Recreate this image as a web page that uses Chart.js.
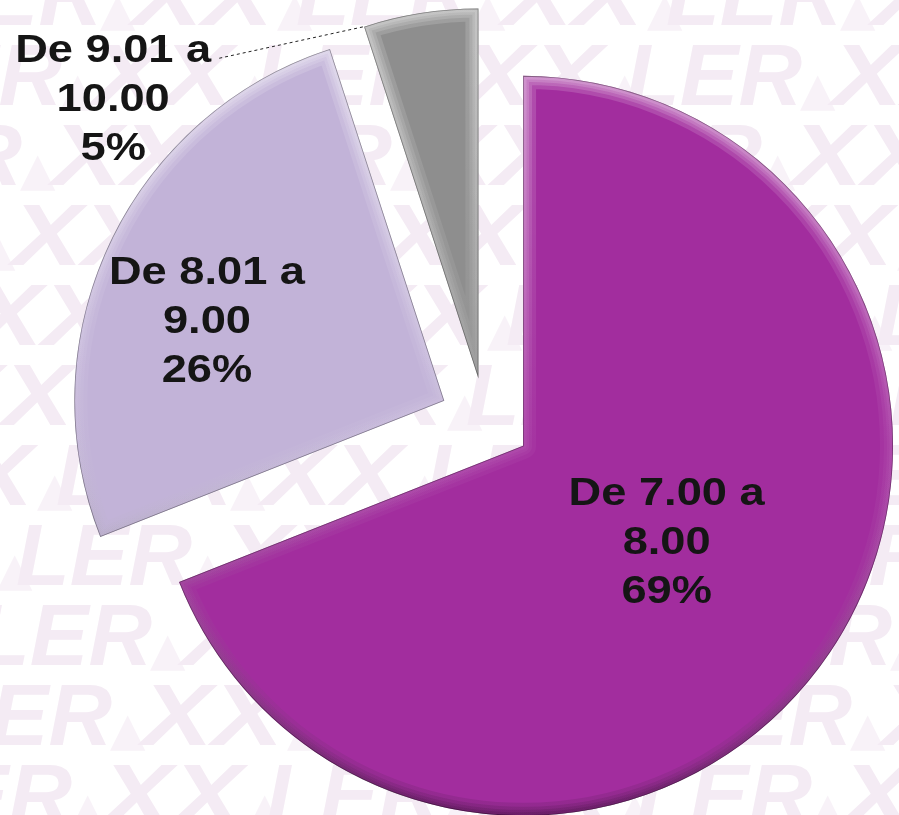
<!DOCTYPE html>
<html><head><meta charset="utf-8">
<script src="https://cdn.jsdelivr.net/npm/chart.js@4/dist/chart.umd.min.js"></script>
<style>html,body{margin:0;padding:0;background:#fff;overflow:hidden}#c{display:block}</style>
</head><body>
<canvas id="c" width="899" height="815"></canvas>
<script>
// ---- data ----
const categories = ['De 7.00 a 8.00', 'De 8.01 a 9.00', 'De 9.01 a 10.00'];
const rangeFrom = ['De 7.00 a', 'De 8.01 a', 'De 9.01 a'];
const rangeTo = ['8.00', '9.00', '10.00'];
const percentages = [69, 26, 5];
// ---- style ----
const sliceColors = ['#A22D9E', '#C2B3D8', '#8E8E8E'];
const explode = [46, 45, 42];
const labelAngle = [33.4, 199.0, 217.6];
const labelDist = [172, 251, 461];

const bgPlugin = {
  id: 'bg',
  beforeDraw(chart) {
    const ctx = chart.ctx;
    ctx.save();
    ctx.fillStyle = '#fff';
    ctx.fillRect(0, 0, chart.width, chart.height);
    const period = 370;
    for (let k = -1; k <= 10; k++) {
      const top = 42 + 80 * k;
      const base = top + 63;
      let rEnd = 432 - 40 * k;
      rEnd = ((rEnd % period) + period) % period - period;
      for (let x = rEnd; x < chart.width + period; x += period) {
        ctx.fillStyle = '#F4EBF4';
        ctx.font = 'italic bold 88px "Liberation Sans", Arial, sans-serif';
        ctx.textAlign = 'right';
        ctx.fillText('LER', x, base);
        ctx.fillStyle = '#F8F2F8';
        ctx.font = 'bold 46px "DejaVu Sans", sans-serif';
        ctx.textAlign = 'left';
        ctx.fillText('\u25B2', x - 2, base);
        ctx.fillStyle = '#F4EBF4';
        ctx.save();
        ctx.translate(x + 30, base);
        ctx.scale(1.2, 1);
        ctx.font = 'italic bold 88px "Liberation Sans", Arial, sans-serif';
        ctx.fillText('XX', 0, 0);
        ctx.restore();
        ctx.fillStyle = '#F8F2F8';
        ctx.font = 'bold 46px "DejaVu Sans", sans-serif';
        ctx.fillText('\u25B2', x + 175, base);
      }
    }
    ctx.restore();
  }
};

const slicePlugin = {
  id: 'slices',
  beforeDatasetsDraw(chart) {
    const ctx = chart.ctx;
    const meta = chart.getDatasetMeta(0);
    meta.data.forEach((arc, i) => {
      const {x, y, startAngle, endAngle, outerRadius} =
        arc.getProps(['x', 'y', 'startAngle', 'endAngle', 'outerRadius'], true);
      const h = (startAngle + endAngle) / 2;
      ctx.save();
      ctx.translate(Math.cos(h) * explode[i], Math.sin(h) * explode[i]);
      arc.draw(ctx);
      ctx.beginPath();
      ctx.moveTo(x, y);
      ctx.arc(x, y, outerRadius, startAngle, endAngle);
      ctx.closePath();
      ctx.clip();
      const g = ctx.createLinearGradient(0, y - outerRadius, 0, y + outerRadius);
      g.addColorStop(0, 'rgba(255,255,255,0.55)');
      g.addColorStop(0.5, 'rgba(255,255,255,0.12)');
      g.addColorStop(1, 'rgba(0,0,0,0.35)');
      ctx.strokeStyle = g;
      ctx.lineJoin = 'round';
      for (const w of [26, 18, 12, 7]) {
        ctx.lineWidth = w;
        ctx.globalAlpha = 0.28;
        ctx.stroke();
      }
      ctx.globalAlpha = 1;
      ctx.lineWidth = 1.6;
      ctx.strokeStyle = 'rgba(0,0,0,0.35)';
      ctx.stroke();
      ctx.restore();
    });
    return false;
  }
};

const labelPlugin = {
  id: 'labels',
  afterDraw(chart) {
    const ctx = chart.ctx;
    const meta = chart.getDatasetMeta(0);
    const sx = 1.19;
    meta.data.forEach((arc, i) => {
      const h = (arc.startAngle + arc.endAngle) / 2;
      const ax = arc.x + Math.cos(h) * explode[i];
      const ay = arc.y + Math.sin(h) * explode[i];
      const a = labelAngle[i] * Math.PI / 180;
      const cx = ax + Math.cos(a) * labelDist[i];
      const cy = ay + Math.sin(a) * labelDist[i];
      const lines = [rangeFrom[i], rangeTo[i], percentages[i] + '%'];
      ctx.save();
      ctx.font = 'bold 38px "Liberation Sans", Arial, sans-serif';
      ctx.fillStyle = '#151515';
      ctx.textAlign = 'center';
      ctx.textBaseline = 'alphabetic';
      lines.forEach((t, j) => {
        ctx.save();
        ctx.translate(cx, cy + (j - 1) * 49);
        ctx.scale(sx, 1);
        ctx.fillText(t, 0, 13.6);
        ctx.restore();
      });
      if (labelDist[i] > arc.outerRadius) {
        const w = ctx.measureText(lines[0]).width * sx;
        const x0 = cx + w / 2 + 8, y0 = cy - 49 + 10;
        const x1 = ax + Math.cos(arc.startAngle) * arc.outerRadius;
        const y1 = ay + Math.sin(arc.startAngle) * arc.outerRadius;
        ctx.setLineDash([3, 3]);
        ctx.lineWidth = 1;
        ctx.strokeStyle = '#222';
        ctx.beginPath();
        ctx.moveTo(x0, y0);
        ctx.lineTo(x1, y1);
        ctx.stroke();
      }
      ctx.restore();
    });
  }
};

new Chart(document.getElementById('c'), {
  type: 'pie',
  data: {
    labels: categories,
    datasets: [{data: percentages, backgroundColor: sliceColors, borderWidth: 0}]
  },
  options: {
    responsive: false,
    animation: false,
    events: [],
    radius: 370,
    layout: {padding: {left: 71, top: 25}},
    plugins: {legend: {display: false}, tooltip: {enabled: false}}
  },
  plugins: [bgPlugin, slicePlugin, labelPlugin]
});
</script>
</body></html>
